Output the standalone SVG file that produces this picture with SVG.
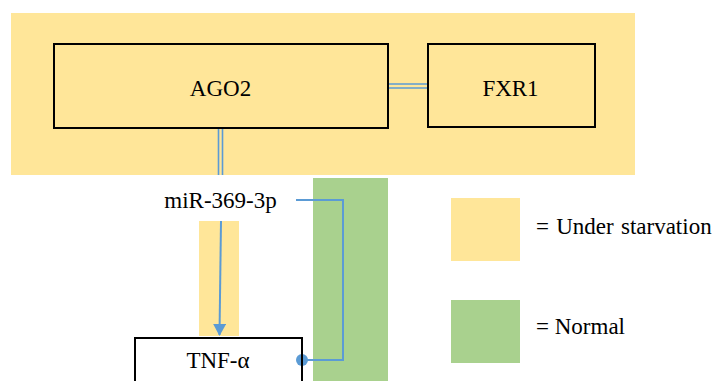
<svg xmlns="http://www.w3.org/2000/svg" width="715" height="381" viewBox="0 0 715 381">
<defs>
<style>
.y{fill:#FFE699}
.g{fill:#A9D18E}
.box{fill:none;stroke:#000;stroke-width:2}
.t{font-family:"Liberation Serif","Times New Roman",Times,serif;font-size:23px;fill:#000}
.c{fill:none;stroke:#5B9BD5;stroke-width:2}
.c1{fill:none;stroke:#5B9BD5;stroke-width:1.6}
</style>
<marker id="arr" markerWidth="12" markerHeight="13" refX="11" refY="6.5" orient="auto" markerUnits="userSpaceOnUse">
<path d="M0,0 L12,6.5 L0,13 Z" fill="#5B9BD5"/>
</marker>
</defs>
<g id="backgrounds">
<rect class="y" x="11" y="13" width="624" height="162"/>
<rect class="g" x="313" y="178" width="75" height="203"/>
<rect class="y" x="199" y="221" width="40" height="115"/>
</g>
<g id="connectors">
<line class="c1" x1="218.5" y1="128" x2="218.5" y2="175"/>
<line class="c1" x1="222.5" y1="128" x2="222.5" y2="175"/>
<line class="c1" x1="388" y1="84" x2="428" y2="84"/>
<line class="c1" x1="388" y1="88" x2="428" y2="88"/>
<line class="c" x1="221" y1="221" x2="219.5" y2="335" marker-end="url(#arr)"/>
<polyline class="c" points="296,200 343,200 343,360 302,360"/>
<circle cx="302" cy="360" r="6" fill="#5B9BD5"/>
</g>
<g id="AGO2">
<rect class="box" x="54" y="44" width="334" height="84"/>
<text class="t" x="220.5" y="96" text-anchor="middle">AGO2</text>
</g>
<g id="FXR1">
<rect class="box" x="428" y="44" width="167" height="83"/>
<text class="t" x="510.5" y="96" text-anchor="middle">FXR1</text>
</g>
<g id="miR">
<text class="t" x="220.5" y="208" text-anchor="middle">miR-369-3p</text>
</g>
<g id="TNF">
<rect class="box" x="135" y="338" width="167" height="60"/>
<text class="t" x="218" y="368" text-anchor="middle">TNF-α</text>
</g>
<g id="legend">
<rect class="y" x="451" y="198" width="69" height="63"/>
<text class="t" x="536" y="234" word-spacing="1.5">= Under starvation</text>
<rect class="g" x="451" y="300" width="69" height="63"/>
<text class="t" x="536" y="334">= Normal</text>
</g>
</svg>
